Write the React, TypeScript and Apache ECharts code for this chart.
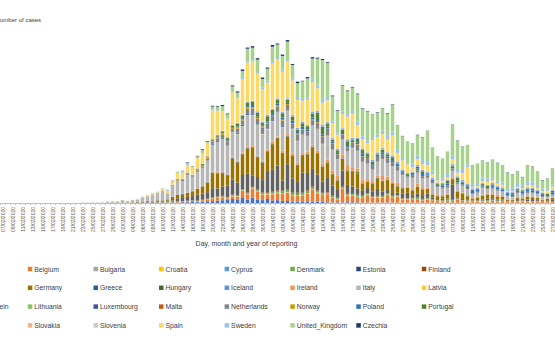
import { useEffect, useRef } from "react";
import * as echarts from "echarts";

const FONT = "Liberation Sans";

const DATES: string[] = [
  "07/02/2020","08/02/2020","09/02/2020","10/02/2020","11/02/2020","12/02/2020","13/02/2020","14/02/2020","15/02/2020","16/02/2020","17/02/2020","18/02/2020","19/02/2020","20/02/2020","21/02/2020","22/02/2020","23/02/2020","24/02/2020","25/02/2020","26/02/2020","27/02/2020","28/02/2020","29/02/2020",
  "01/03/2020","02/03/2020","03/03/2020","04/03/2020","05/03/2020","06/03/2020","07/03/2020","08/03/2020","09/03/2020","10/03/2020","11/03/2020","12/03/2020","13/03/2020","14/03/2020","15/03/2020","16/03/2020","17/03/2020","18/03/2020","19/03/2020","20/03/2020","21/03/2020","22/03/2020","23/03/2020","24/03/2020","25/03/2020","26/03/2020","27/03/2020","28/03/2020","29/03/2020","30/03/2020","31/03/2020",
  "01/04/2020","02/04/2020","03/04/2020","04/04/2020","05/04/2020","06/04/2020","07/04/2020","08/04/2020","09/04/2020","10/04/2020","11/04/2020","12/04/2020","13/04/2020","14/04/2020","15/04/2020","16/04/2020","17/04/2020","18/04/2020","19/04/2020","20/04/2020","21/04/2020","22/04/2020","23/04/2020","24/04/2020","25/04/2020","26/04/2020","27/04/2020","28/04/2020","29/04/2020","30/04/2020",
  "01/05/2020","02/05/2020","03/05/2020","04/05/2020","05/05/2020","06/05/2020","07/05/2020","08/05/2020","09/05/2020","10/05/2020","11/05/2020","12/05/2020","13/05/2020","14/05/2020","15/05/2020","16/05/2020","17/05/2020","18/05/2020","19/05/2020","20/05/2020","21/05/2020","22/05/2020","23/05/2020","24/05/2020","25/05/2020","26/05/2020","27/05/2020"
];

// 7 Feb - 29 Feb (23 days) with no reported cases
const FEB_NONE = [0,0,0,0,0,0,0,0,0,0,0,0,0,0,0,0,0,0,0,0,0,0,0];

// February values for the countries with early cases
const ITALY_FEB = [0,0,0,0,0,0,0,0,0,0,0,0,0,0,3,14,62,53,97,93,78,250,238];
const GERMANY_FEB = [0,1,1,0,0,0,0,0,0,0,0,0,0,0,0,0,0,0,0,2,10,18,25];
const FRANCE_FEB = [0,0,0,1,0,0,0,0,1,0,0,0,0,0,0,0,0,0,2,2,4,20,43];
const SPAIN_FEB = [0,0,1,0,0,0,0,0,0,0,0,0,0,0,0,0,0,0,4,3,6,17,13];
const UK_FEB = [0,0,0,5,1,0,0,0,0,0,0,0,0,0,0,0,0,4,0,0,3,7,4];

// 1 March - 27 May
const ITALY = [240,450,300,420,440,700,780,1250,1300,1800, 977,2100,2651,2547,3497,2823,3200,3526,4207,5322, 5986,6557,5560,4789,5249,5210,6153,5959,5974,5217,4050, 4053,4782,4668,4585,4805,4316,3599,3039,3836,4204, 3951,4694,4092,3153,2972,2667,3786,3493,3491,3047, 2256,2729,3370,2646,3021,2357,2324,1739,2091,2086, 1872,1965,1900,1389,1221,1075,1444,1401,1327,1083, 802,744,1402,888,992,789,875,675,451,813, 665,642,652,669,531,300,397];
const SPAIN = [30,20,40,50,60,90,170,230,150,400, 500,500,1000,1200,1500,1400,2000,2000,2500,5700, 4700,3850,3600,6500,4850,7000,7700,7800,7500,6500,6400, 9000,7700,8000,7400,6900,5500,4200,5000,5800,4400, 4300,4300,3000,2800,2800,4500,4800,2500,1800,1800, 3900,3000,2800,2500,4000,1700,1800,1700,900,1200, 1100,1300,700,450,400,400,1000,700,1300,3300, 200,300,400,600,500,400,500,100,200,300, 200,500,500,400,250,500,700];
const GERMANY = [57,30,20,45,60,100,150,100,180,180, 240,400,700,700,800,900,1150,1400,1900,3000, 3000,2700,2000,4200,4000,4100,5000,5500,3965,3500,4000, 5000,5500,5500,5500,4500,3200,3500,3700,4300,4100, 3000,2800,2200,1800,2300,2700,3000,3000,1400,1200, 1600,2100,2000,2000,1800,1200,1000,1000,900,1300, 1300,900,600,550,500,700,1100,1100,1100,600, 300,550,700,800,700,500,550,200,200,400, 350,600,550,400,250,400,400];
const FRANCE = [30,60,30,70,80,90,190,160,250,200, 200,300,600,600,700,850,1200,1100,1300,1900, 1600,1800,2300,3000,2500,2800,3800,2300,2500,2500,4000, 4500,4900,2000,5000,2800,2300,4000,3500,3500,3200, 2200,3000,2000,1500,3200,1700,1350,1300,950,1000, 900,1400,700,650,500,450,950,1100,500,850, 550,850,250,180,250,220,3000,200,200,220, 70,70,200,330,300,210,220,50,60,170, 80,270,200,180,40,140,340];
const UNITED_KINGDOM = [12,13,4,11,34,30,48,43,67,46, 50,60,160,150,160,140,350,600,250,650, 700,1000,850,950,1000,1400,2500,2500,2500,1700,2400, 2900,2500,2700,3500,2700,3000,3500,3800,4000,5200, 8000,7000,5000,4300,5200,4600,4600,5500,5500,5800, 4700,4300,4450,4500,5400,4900,4400,4300,4000,4076, 4500,6201,4806,4339,3985,4406,6111,5614,4649,3896, 3923,3877,3403,3242,3446,3560,3450,3534,2684,2412, 1600,3287,2959,2615,1625,2004,3200];
const AUSTRIA = [4,4,8,5,18,14,24,19,31,51, 51,115,58,151,149,205,158,314,355,376, 466,557,594,796,606,1141,664,1036,624,579,805, 528,564,418,396,257,314,312,329,279,241, 247,139,105,143,97,151,143,116,91,78, 65,77,81,92,75,44,49,55,47,88, 40,37,36,33,45,59,71,49,20,34, 28,35,60,52,48,47,25,33,46,39, 36,37,39,27,25,31,28];
const BELGIUM = [0,1,6,5,27,59,60,31,39,28, 47,85,160,130,197,172,185,243,309,462, 558,586,342,526,668,1298,1049,1850,1702,1063,876, 1189,1384,1422,1661,1260,1123,1209,1580,2454,1684, 1351,1629,962,530,2800,1236,1329,1054,1045,1487, 933,973,1032,1496,1032,1213,647,553,701,645, 485,660,515,361,288,323,342,639,361,281, 197,254,243,284,383,274,325,227,138,281, 264,235,232,280,190,147,189];
const NETHERLANDS = [4,8,5,14,20,44,46,60,77,56, 61,121,111,190,155,176,278,292,346,409, 534,637,573,545,811,852,1019,1172,1159,1104,884, 845,1019,1083,1026,904,1224,952,777,969,1213, 1335,1316,1174,964,868,734,1061,1235,1066,1066, 750,729,797,887,655,808,400,171,386,514, 475,445,335,199,247,445,455,232,319,245, 161,196,199,227,215,197,125,102,163,188, 176,234,199,172,153,157,188];
const PORTUGAL = [0,0,2,2,5,4,8,9,9,12, 18,19,59,57,67,86,117,194,143,235, 260,320,460,302,633,549,724,902,792,446,1035, 808,783,852,638,754,452,712,699,815,1516, 1516,598,349,506,643,750,181,657,663,521, 516,371,603,444,595,163,92,183,295,345, 553,181,92,171,242,533,178,553,138,226, 98,163,234,187,264,214,195,173,252,257, 288,219,271,138,165,219,271];
const SWEDEN = [3,1,2,1,23,24,34,26,49,55, 120,175,155,159,171,74,49,124,88,160, 111,97,93,236,142,322,296,267,304,331,380, 441,465,465,383,408,399,375,487,726,722, 544,466,332,465,497,482,613,676,606,563, 392,545,682,751,812,610,463,286,695,681, 790,676,562,401,375,703,753,735,642,504, 466,602,707,612,635,562,465,258,657,722, 619,574,774,594,541,383,402];
const IRELAND = [0,0,1,1,4,7,1,1,2,6, 9,27,14,20,39,40,106,69,74,126, 191,102,121,219,204,235,255,302,200,294,295, 325,212,402,424,370,390,366,345,365,500, 480,553,727,992,832,1068,724,709,777,493, 401,388,936,577,377,701,234,200,376,631, 221,197,265,330,224,286,201,107,136,236, 164,159,172,107,139,426,63,64,104,159, 56,51,64,57,59,37,28];
const POLAND = [0,0,0,0,1,0,4,0,6,6, 5,9,20,17,43,27,25,83,51,60, 111,98,115,152,150,170,249,243,224,193,256, 243,392,437,244,475,311,435,357,374,370, 380,401,318,260,268,380,336,363,545,263, 313,306,381,355,461,460,285,263,316,306, 381,249,328,299,407,356,307,338,335,330, 595,345,285,216,401,376,318,325,360,302, 378,449,395,353,416,238,445];
const ROMANIA = [0,0,0,0,1,0,3,0,2,2, 5,18,14,24,49,35,31,51,45,60, 96,75,186,143,132,125,187,160,269,225,253, 183,264,240,264,347,390,277,235,377,327, 429,300,332,333,314,378,322,262,323,349, 366,409,321,388,312,374,305,245,191,306, 327,300,356,296,311,288,342,341,413,324, 271,294,190,235,317,190,219,227,178,168, 195,154,193,130,167,148,168];
const CZECHIA = [0,3,0,2,3,7,7,7,14,7, 24,31,33,47,116,50,91,138,126,149, 137,218,151,193,247,302,235,300,282,286,234, 349,213,272,299,189,284,119,271,273,198, 207,154,158,126,94,134,128,119,101,98, 53,107,56,95,72,50,53,24,54,78, 77,46,26,38,38,33,60,78,51,25, 34,26,42,49,33,65,29,46,52,29, 65,61,71,60,74,41,37];
const DENMARK = [0,1,1,1,5,10,5,4,5,54, 172,252,62,56,44,67,59,40,52,101, 121,84,74,146,142,147,190,106,133,197,182, 253,352,371,393,337,292,285,390,331,260, 233,184,178,177,179,249,222,266,211,178, 145,210,226,178,159,161,117,137,148,166, 172,144,143,89,121,178,124,101,120,119, 86,96,113,141,108,82,78,40,86,56, 68,84,65,78,33,48,36];
const NORWAY = [0,1,10,10,24,43,20,25,13,37, 103,131,225,130,159,71,172,168,223,161, 212,283,209,205,219,250,281,224,173,227,221, 173,158,163,186,115,138,94,71,156,141, 111,83,65,38,62,86,88,83,48,47, 32,49,73,53,64,34,30,41,28,49, 41,38,20,12,21,44,40,31,19,10, 18,19,28,15,23,20,9,13,16,17, 22,16,10,8,12,10,17];
const LUXEMBOURG = [1,0,0,0,0,1,1,1,0,1, 3,2,19,8,21,26,39,59,57,133, 149,128,77,77,224,234,190,152,122,116,89, 148,134,152,61,71,75,64,87,47,71, 41,34,45,15,44,31,31,19,22,25, 25,18,20,14,20,17,4,29,5,19, 6,10,3,5,3,7,4,9,8,9, 3,4,5,5,12,4,6,5,5,6, 1,4,2,4,1,3,1];
const FINLAND = [1,0,1,4,0,6,3,4,4,6, 10,18,45,43,48,59,30,40,92,47, 76,84,80,74,58,84,88,74,95,72,107, 96,104,134,134,130,205,108,106,118,124, 107,98,112,125,99,146,130,80,31,88, 74,82,165,63,149,82,66,56,106,78, 68,82,46,65,85,51,54,96,30,24, 37,22,30,34,67,50,25,10,11,22, 58,18,39,31,18,23,24];
const GREECE = [0,0,0,1,2,3,20,21,11,11, 0,9,32,91,0,49,21,36,53,82, 46,72,94,71,48,71,74,71,69,36,95, 102,32,50,64,35,25,21,62,26,49, 23,10,13,54,35,22,34,21,11,10, 14,76,100,3,25,12,13,18,21,15, 19,15,11,10,8,17,12,11,15,2, 4,10,12,10,0,3,9,2,20,7, 4,2,5,0,7,8,6];
const HUNGARY = [0,0,0,0,2,0,3,0,1,3, 3,3,3,5,6,13,7,11,8,35, 18,28,36,19,39,35,39,43,34,39,45, 45,37,62,60,55,84,73,78,85,109, 45,130,92,86,74,188,82,210,97,72, 108,60,48,98,102,104,36,52,46,35, 58,27,57,27,27,46,21,42,31,31, 23,35,38,19,27,29,32,36,35,16, 28,21,23,28,15,10,6];
const ICELAND = [0,0,3,6,7,17,9,3,12,10, 20,33,14,20,22,24,19,23,26,80, 64,95,95,60,89,76,65,71,73,65,60, 48,55,24,49,52,23,13,39,48,25, 23,26,11,12,15,5,11,18,4,3, 8,5,6,10,4,2,2,3,5,2, 0,2,1,1,0,0,0,1,1,0, 0,0,0,1,0,1,0,0,0,0, 1,0,0,2,0,0,1];
const BULGARIA = [0,0,0,0,0,0,0,0,4,0, 2,1,16,8,10,14,15,16,24,6, 22,14,38,17,22,20,22,38,28,22,40, 40,28,28,35,26,32,22,19,13,57, 26,39,46,22,25,48,67,40,36,86, 42,41,44,53,35,51,65,89,40,76, 47,67,29,48,51,45,45,56,64,59, 64,43,45,49,38,27,28,27,20,9, 30,20,22,26,3,40,18];
const CROATIA = [0,1,1,0,1,2,0,1,1,1, 3,0,3,5,5,3,9,30,25,44, 29,78,53,72,62,57,55,99,56,69,77, 76,60,52,66,42,37,64,46,50,70, 41,34,31,52,28,42,16,36,39,30, 18,25,30,31,27,37,13,21,19,14, 15,30,8,14,3,8,11,5,5,8, 5,3,2,3,5,2,4,0,0,1, 5,1,2,1,0,0,2];
const CYPRUS = [0,0,0,0,0,0,0,0,2,0, 0,4,0,0,0,11,18,5,8,24, 17,0,11,21,20,16,18,12,19,0,26, 32,50,10,29,20,18,20,11,29,38, 21,21,15,16,27,20,11,23,6,8, 11,1,6,3,8,5,9,9,8,3, 12,3,5,4,1,7,0,3,2,0, 1,0,1,3,2,4,2,1,4,1, 3,2,2,0,0,0,1];
const ESTONIA = [0,0,0,0,1,1,1,1,5,0, 0,14,11,10,63,0,0,100,0,0, 20,48,20,50,21,34,37,34,34,80,89, 39,33,41,34,53,36,45,32,43,25, 29,26,62,42,36,21,39,25,18,39, 43,15,21,15,10,6,13,11,9,8, 4,8,7,3,2,2,5,5,6,3, 1,5,4,7,4,1,2,5,4,2, 4,6,2,1,2,6,0];
const LATVIA = [0,0,1,0,0,0,0,0,1,4, 0,2,8,0,10,4,16,13,11,43, 13,13,15,41,15,23,24,26,21,42,29, 22,20,22,12,22,24,23,20,19,26, 23,29,12,10,11,21,11,16,6,5, 15,9,5,8,6,4,13,11,3,10, 9,13,6,6,4,3,5,3,4,17, 1,5,0,5,3,5,5,3,6,5, 3,1,4,5,3,1,1];
const LIECHTENSTEIN = [0,0,0,0,0,0,0,0,0,0, 0,0,0,0,0,0,0,0,4,3, 2,5,6,5,9,2,5,4,5,0,4, 0,1,3,0,0,1,0,0,0,2, 0,0,0,0,2,0,0,0,0,0, 0,0,0,0,0,0,0,0,0,0, 0,0,0,0,0,0,0,0,0,0, 0,0,0,0,0,0,0,0,0,0, 0,0,0,0,0,0,0];
const LITHUANIA = [0,0,0,0,0,0,0,0,0,0, 2,1,0,0,3,4,6,11,10,18, 20,36,80,49,93,70,81,59,43,101,74, 47,46,51,63,115,29,22,60,45,45, 39,38,18,27,21,65,60,26,28,28, 15,43,17,69,33,21,30,21,16,26, 24,10,9,11,14,20,9,11,13,16, 15,12,6,12,10,9,15,10,7,21, 14,22,11,11,14,10,6];
const MALTA = [0,0,0,0,0,0,3,0,0,1, 2,2,3,9,6,3,11,10,5,25, 10,17,17,8,14,15,10,7,5,16,4, 18,7,2,11,20,9,11,11,6,20, 24,6,1,7,2,21,8,6,0,13, 6,13,1,4,4,2,2,7,1,13, 0,2,9,6,4,3,5,0,3,6, 1,4,3,1,4,0,2,2,2,5, 3,0,1,3,2,2,4];
const SLOVAKIA = [0,0,0,0,0,0,1,0,0,3, 3,3,3,11,11,19,28,25,42,27, 41,7,6,19,13,30,10,23,34,22,41, 37,63,21,25,14,21,16,21,36,101, 38,21,31,14,17,34,21,14,24,6, 52,21,8,6,10,7,8,8,5,6, 4,5,0,3,2,7,0,18,1,2, 2,0,6,3,4,1,3,1,1,3, 2,1,2,3,1,0,3];
const SLOVENIA = [0,0,0,0,1,5,6,3,6,9, 23,26,57,45,43,40,34,36,14,17, 57,22,27,34,44,45,70,30,25,56,47, 61,39,48,44,28,21,10,20,43,31, 38,22,14,4,33,16,21,10,10,10, 13,12,14,13,15,10,1,9,6,11, 7,6,2,0,3,1,5,1,0,5, 5,0,1,2,3,2,0,0,0,2, 4,0,3,0,1,1,0];

const COUNTRY_NAMES = [
  "Austria","Belgium","Bulgaria","Croatia","Cyprus","Denmark","Estonia","Finland",
  "France","Germany","Greece","Hungary","Iceland","Ireland","Italy","Latvia",
  "Liechtenstein","Lithuania","Luxembourg","Malta","Netherlands","Norway","Poland","Portugal",
  "Romania","Slovakia","Slovenia","Spain","Sweden","United_Kingdom","Czechia"
];

const COUNTRY_VALUES: number[][] = [
  [...FEB_NONE, ...AUSTRIA],
  [...FEB_NONE, ...BELGIUM],
  [...FEB_NONE, ...BULGARIA],
  [...FEB_NONE, ...CROATIA],
  [...FEB_NONE, ...CYPRUS],
  [...FEB_NONE, ...DENMARK],
  [...FEB_NONE, ...ESTONIA],
  [...FEB_NONE, ...FINLAND],
  [...FRANCE_FEB, ...FRANCE],
  [...GERMANY_FEB, ...GERMANY],
  [...FEB_NONE, ...GREECE],
  [...FEB_NONE, ...HUNGARY],
  [...FEB_NONE, ...ICELAND],
  [...FEB_NONE, ...IRELAND],
  [...ITALY_FEB, ...ITALY],
  [...FEB_NONE, ...LATVIA],
  [...FEB_NONE, ...LIECHTENSTEIN],
  [...FEB_NONE, ...LITHUANIA],
  [...FEB_NONE, ...LUXEMBOURG],
  [...FEB_NONE, ...MALTA],
  [...FEB_NONE, ...NETHERLANDS],
  [...FEB_NONE, ...NORWAY],
  [...FEB_NONE, ...POLAND],
  [...FEB_NONE, ...PORTUGAL],
  [...FEB_NONE, ...ROMANIA],
  [...FEB_NONE, ...SLOVAKIA],
  [...FEB_NONE, ...SLOVENIA],
  [...SPAIN_FEB, ...SPAIN],
  [...FEB_NONE, ...SWEDEN],
  [...UK_FEB, ...UNITED_KINGDOM],
  [...FEB_NONE, ...CZECHIA]
];

const COLORS = [
  "#4472C4","#ED7D31","#A5A5A5","#FFC000","#5B9BD5","#70AD47","#264478","#9E480E",
  "#636363","#997300","#255E91","#43682B","#698ED0","#F1975A","#B7B7B7","#FFCD33",
  "#7CAFDD","#8CC168","#335AA1","#C55A11","#848484","#CC9A00","#2E75B6","#548235",
  "#8FAADC","#F4B183","#C9C9C9","#FFD966","#9DC3E6","#A9D18E","#203864"
];

const LEGEND_COLUMN_LEFT = [-38, 27.8, 93.5, 159, 224.6, 290.3, 356.3, 421.8];

export default function App() {
  const ref = useRef<HTMLDivElement>(null);
  useEffect(() => {
    if (!ref.current) return;
    const chart = echarts.init(ref.current, undefined, { renderer: "svg" });
    const series = COUNTRY_NAMES.map((name, i) => ({
      name,
      type: "bar",
      stack: "cases",
      data: COUNTRY_VALUES[i],
      barCategoryGap: "30%",
      itemStyle: { color: COLORS[i] },
      emphasis: { disabled: true },
    }));
    const legends = LEGEND_COLUMN_LEFT.map((left, c) => ({
      orient: "vertical",
      left,
      top: 264.5,
      itemWidth: 4.5,
      itemHeight: 4.5,
      itemGap: 9.8,
      icon: "rect",
      selectedMode: false,
      padding: 0,
      textStyle: {
        fontSize: 6.8,
        fontFamily: FONT,
        color: "#404040",
        lineHeight: 9,
        padding: [0, 0, 0, -3],
      },
      data: COUNTRY_NAMES.filter((_, i) => i % 8 === c),
    }));
    chart.setOption({
      animation: false,
      backgroundColor: "#ffffff",
      grid: { left: -6.8, right: -6.5, top: 3, bottom: 154, containLabel: false },
      legend: legends,
      xAxis: {
        type: "category",
        data: DATES,
        axisLine: { lineStyle: { color: "#bfbfbf", width: 1 } },
        axisTick: { show: true, interval: 0, length: 2, lineStyle: { color: "#bfbfbf" } },
        axisLabel: {
          interval: 1,
          rotate: 90,
          fontSize: 5,
          fontFamily: FONT,
          color: "#595959",
          margin: 4,
        },
      },
      yAxis: {
        type: "value",
        min: 0,
        max: 40000,
        show: false,
        splitLine: { show: false },
      },
      graphic: [
        {
          type: "text",
          x: -4.3,
          y: 20,
          style: {
            text: "Number of cases",
            fontSize: 6,
            fontFamily: FONT,
            fill: "#404040",
            verticalAlign: "middle",
          },
        },
        {
          type: "text",
          x: 246.5,
          y: 243,
          style: {
            text: "Day, month and year of reporting",
            fontSize: 7,
            fontFamily: FONT,
            fill: "#404040",
            align: "center",
            verticalAlign: "middle",
          },
        },
      ],
      series,
    });
    return () => chart.dispose();
  }, []);
  return (
    <div
      ref={ref}
      style={{ position: "absolute", left: 0, top: 0, width: 555, height: 357 }}
    />
  );
}
